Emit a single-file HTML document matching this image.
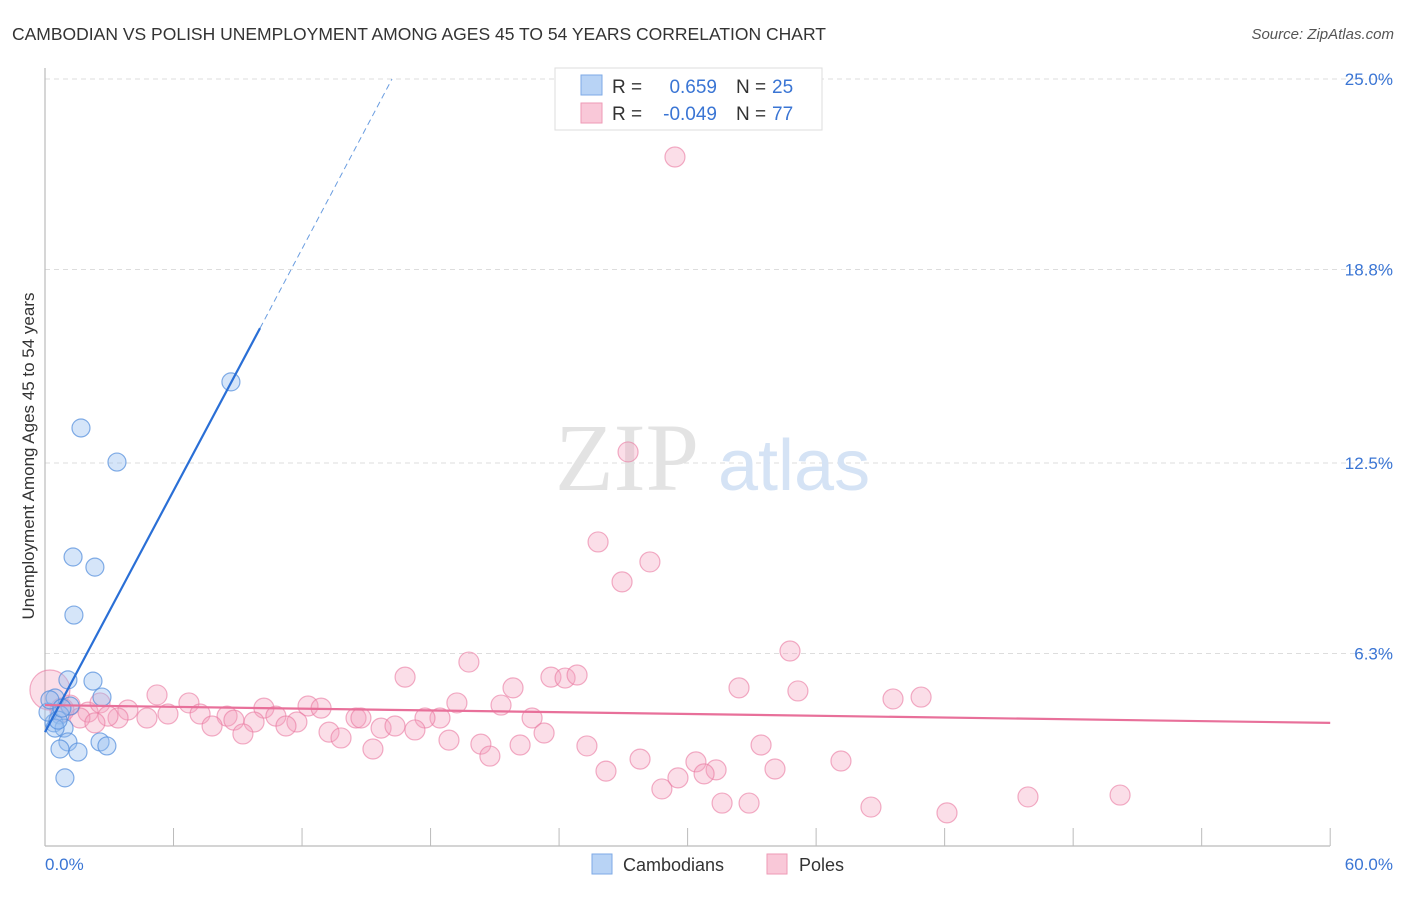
<!DOCTYPE html>
<html><head><meta charset="utf-8"><style>
body{margin:0;background:#fff;font-family:"Liberation Sans",sans-serif;}
</style></head><body>
<svg width="1406" height="892" viewBox="0 0 1406 892">
<text x="12" y="40" font-size="17.5" fill="#333">CAMBODIAN VS POLISH UNEMPLOYMENT AMONG AGES 45 TO 54 YEARS CORRELATION CHART</text>
<text x="1394" y="39" font-size="15" fill="#555" font-style="italic" text-anchor="end">Source: ZipAtlas.com</text>
<g id="grid"></g>
<g id="ticks"></g>
<line x1="45" y1="68" x2="45" y2="846" stroke="#bbb" stroke-width="1.2"/>
<line x1="45" y1="846" x2="1330" y2="846" stroke="#bbb" stroke-width="1.2"/>
<text x="555" y="490" font-size="96" font-family="Liberation Serif,serif" fill="#e3e3e3">ZIP</text>
<text x="718" y="490" font-size="72" fill="#d5e3f5">atlas</text>
<g id="pts"></g>
<g id="trend"></g>
<text x="34" y="456" font-size="17" fill="#333" text-anchor="middle" transform="rotate(-90 34 456)">Unemployment Among Ages 45 to 54 years</text>
<g id="ylabels"></g>
<text x="45" y="870" font-size="17" fill="#3a75d4">0.0%</text>
<text x="1393" y="870" font-size="17" fill="#3a75d4" text-anchor="end">60.0%</text>
<g>
<rect x="555" y="68" width="267" height="62" fill="#fff" stroke="#ddd"/>
<rect x="581" y="75" width="21" height="20" fill="#b8d3f5" stroke="#7eaae6"/>
<rect x="581" y="103" width="21" height="20" fill="#f9c8d8" stroke="#ee9ab6"/>
<text x="612" y="93" font-size="19" fill="#333">R =</text>
<text x="717" y="93" font-size="19" fill="#3a75d4" text-anchor="end">0.659</text>
<text x="736" y="93" font-size="19" fill="#333">N =</text>
<text x="772" y="93" font-size="19" fill="#3a75d4">25</text>
<text x="612" y="120" font-size="19" fill="#333">R =</text>
<text x="717" y="120" font-size="19" fill="#3a75d4" text-anchor="end">-0.049</text>
<text x="736" y="120" font-size="19" fill="#333">N =</text>
<text x="772" y="120" font-size="19" fill="#3a75d4">77</text>
</g>
<g>
<rect x="592" y="854" width="20" height="20" fill="#b8d3f5" stroke="#7eaae6"/>
<text x="623" y="871" font-size="18" fill="#333">Cambodians</text>
<rect x="767" y="854" width="20" height="20" fill="#f9c8d8" stroke="#ee9ab6"/>
<text x="799" y="871" font-size="18" fill="#333">Poles</text>
</g>
</svg>
<script>
const yTicks=[25.0,18.8,12.5,6.3];
const yTickLabels=["25.0%","18.8%","12.5%","6.3%"];
const xTicks=[0,6,12,18,24,30,36,42,48,54,60];
const blueX=[8.68,1.68,3.36,1.31,2.33,1.35,1.07,2.24,2.66,0.47,1.17,0.70,0.42,0.89,0.47,0.14,1.07,2.57,2.89,0.70,1.54,0.93,0.23,0.61,0.79];
const blueY=[15.14,13.64,12.53,9.44,9.11,7.55,5.44,5.40,4.88,4.85,4.59,4.30,4.04,3.87,3.87,4.39,3.42,3.42,3.29,3.19,3.09,2.25,4.79,4.13,4.52];
const pinkX=[29.41,27.22,25.82,28.24,26.94,34.78,19.79,16.81,23.62,24.28,24.84,21.85,32.40,35.15,40.90,39.59,5.23,19.23,21.29,12.28,6.72,10.22,12.89,18.44,17.74,14.52,14.75,22.74,10.78,8.50,7.24,5.74,4.76,3.87,3.41,8.82,9.76,11.76,7.80,11.25,15.69,16.34,17.27,13.26,13.82,23.30,9.24,18.86,15.31,20.35,22.18,25.30,33.43,20.77,27.78,30.39,37.16,31.33,26.19,30.77,34.08,29.55,28.80,31.61,32.87,38.56,42.11,45.89,50.19,2.01,1.17,2.57,2.94,1.63,0.79,2.33,0.23];
const pinkY=[22.46,12.86,9.93,9.28,8.63,6.38,6.02,5.53,5.53,5.50,5.60,5.18,5.18,5.08,4.88,4.82,4.95,4.69,4.62,4.59,4.69,4.52,4.52,4.20,4.20,4.20,4.20,4.20,4.26,4.26,4.33,4.33,4.20,4.46,4.20,4.13,4.07,4.07,3.94,3.94,3.87,3.94,3.81,3.74,3.55,3.71,3.68,3.48,3.19,3.35,3.32,3.29,3.32,2.96,2.86,2.77,2.80,2.51,2.47,2.38,2.54,2.25,1.89,1.43,1.43,1.30,1.11,1.63,1.69,4.39,4.62,4.69,4.26,4.20,4.46,4.04,5.11];
const blueTrend=[[0,3.74],[10.04,16.89]];
const blueTrendDash=[[10.04,16.89],[16.2,25]];
const pinkTrend=[[0,4.62],[60,4.04]];
const X=v=>45+v*21.42, Y=v=>847-v*30.72;
const NS="http://www.w3.org/2000/svg";
function mk(tag,parent,attrs){const e=document.createElementNS(NS,tag);for(const k in attrs)e.setAttribute(k,attrs[k]);document.getElementById(parent).appendChild(e);return e;}
yTicks.forEach((t,i)=>{
 const l=mk('line','grid',{x1:45,x2:1393,y1:Y(t),y2:Y(t),stroke:'#ddd','stroke-dasharray':'5,4'});
 
 
 const tx=mk('text','ylabels',{x:1393,y:Y(t)+6,'font-size':17,fill:'#3a75d4','text-anchor':'end'});
 tx.textContent=yTickLabels[i];
 
 
});
xTicks.forEach(t=>{
 const l=mk('line','ticks',{x1:X(t),x2:X(t),y1:828,y2:846,stroke:'#bbb'});
 
 
});
pinkX.forEach((x,i)=>{
 const big=(x<1);
 const c=mk('circle','pts',{cx:X(x),cy:Y(pinkY[i]),r:big?(i==pinkX.length-1?20:12):10,fill:'rgba(244,160,188,0.35)',stroke:'rgba(234,120,160,0.6)','stroke-width':1.2});
 
 
});
blueX.forEach((x,i)=>{
 const c=mk('circle','pts',{cx:X(x),cy:Y(blueY[i]),r:9,fill:'rgba(150,190,240,0.4)',stroke:'rgba(80,140,220,0.7)','stroke-width':1.2});
 
 
});
let l1=mk('line','trend',{x1:X(blueTrend[0][0]),y1:Y(blueTrend[0][1]),x2:X(blueTrend[1][0]),y2:Y(blueTrend[1][1]),stroke:'#2a6fd6','stroke-width':2.2});


let l2=mk('line','trend',{x1:X(blueTrendDash[0][0]),y1:Y(blueTrendDash[0][1]),x2:X(blueTrendDash[1][0]),y2:Y(blueTrendDash[1][1]),stroke:'#6a9de0','stroke-width':1,'stroke-dasharray':'6,4'});


let l3=mk('line','trend',{x1:X(pinkTrend[0][0]),y1:Y(pinkTrend[0][1]),x2:X(pinkTrend[1][0]),y2:Y(pinkTrend[1][1]),stroke:'#e8709a','stroke-width':2.2});


</script>
</body></html>
